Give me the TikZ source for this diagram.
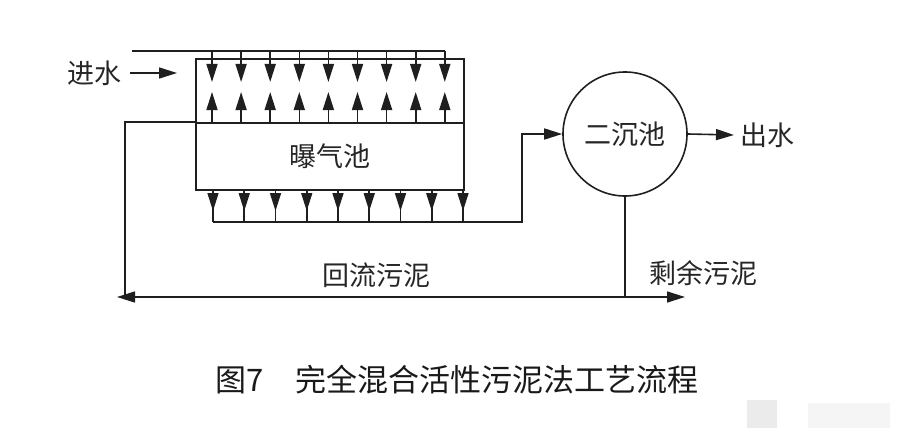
\documentclass[tikz,border=0pt]{standalone}
\usepackage{fontspec}
\newfontfamily\cjk{Noto Sans CJK SC}
\usetikzlibrary{arrows.meta,calc}
\begin{document}
\begin{tikzpicture}[x=1pt,y=-1pt,line width=1.6pt,color=black!88,
  >={Triangle[length=18pt,width=11pt]},
  lbl/.style={font=\cjk\fontsize{27}{30}\selectfont,inner sep=0pt,text=black!85},
  captionst/.style={font=\cjk\fontsize{31}{34}\selectfont,inner sep=0pt,text=black!90},
  boxst/.style={draw,rectangle,inner sep=0pt,minimum width=268pt,anchor=north west}]
\useasboundingbox (0,0) rectangle (900,428);
% faint grey patches
\fill[black!8,draw=none] (747,400) rectangle (777,428);
\fill[black!4,draw=none] (808,403) rectangle (890,428);
% boxes
\node[boxst,minimum height=64pt] (feed) at (195,58) {};
\node[boxst,minimum height=67pt,lbl] (tank) at (195,122) {曝气池};
\node[draw,circle,minimum size=124pt,inner sep=0pt,lbl] (sec) at (625,134) {二沉池};
% inlet
\node[lbl] (in) at (94,73) {进水};
\draw[->] ([xshift=8pt]in.east) -- ([xshift=-18pt]feed.west |- in.east);
% top distribution line
\coordinate (t0) at (132,51);
\coordinate (t1) at (445,51);
\draw (t0) -- (t1);
\foreach \i in {0,...,8}{
  \draw[->] ($(212,51)+(\i*29.1,0)$) -- ($(212,82)+(\i*29.1,0)$);
  \draw[->] ($(212,122)+(\i*29.1,0)$) -- ($(212,92)+(\i*29.1,0)$);
  \draw ($(213,189)+(\i*31.25,0)$) -- ($(213,222)+(\i*31.25,0)$);
  \draw[->] ($(213,189)+(\i*31.25,0)$) -- ($(213,211)+(\i*31.25,0)$);
}
% collection line to clarifier
\coordinate (b0) at (213,222);
\coordinate (b1) at (522,222);
\draw[->] (b0) -- (b1) -- (b1 |- sec.west) -- (sec.west);
% outlet
\node[lbl,anchor=west] (out) at (740,135) {出水};
\draw[->] (sec.east) -- ([xshift=-6pt]out.west);
% sludge lines
\coordinate (j) at (sec.south |- 0,297);
\coordinate (lt) at (117,297);
\coordinate (rt) at (685,297);
\coordinate (rc) at (125,297);
\draw (sec.south) -- (j);
\draw[->] (j) -- (rt);
\draw[->] (j) -- (lt);
\draw (rc) -- (rc |- tank.north west) -- (tank.north west);
\node[lbl] (ret) at (376,275) {回流污泥};
\node[lbl] (exc) at (703,273) {剩余污泥};
% caption
\node[captionst] (capt) at (457,380) {图7\hspace{1em}完全混合活性污泥法工艺流程};
\end{tikzpicture}
\end{document}
